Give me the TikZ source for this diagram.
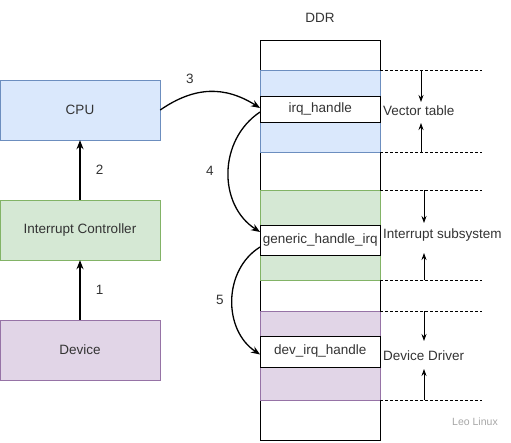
\documentclass[tikz,border=0pt]{standalone}
\usepackage{fontspec}
\setmainfont{Liberation Sans}
\usetikzlibrary{arrows.meta}
\definecolor{txt}{HTML}{333333}
\definecolor{bfill}{HTML}{DAE8FC}\definecolor{bline}{HTML}{6C8EBF}
\definecolor{gfill}{HTML}{D5E8D4}\definecolor{gline}{HTML}{82B366}
\definecolor{pfill}{HTML}{E1D5E7}\definecolor{pline}{HTML}{9673A6}
\tikzset{
  box/.style={draw, minimum width=160pt, minimum height=60pt, inner sep=0pt, font=\fontsize{13.5}{15}\selectfont, text=txt},
  fn/.style={draw=black, fill=white, minimum width=120pt, minimum height=26pt, inner sep=0pt, font=\fontsize{13.5}{15}\selectfont, text=txt},
  lbl/.style={font=\fontsize{13.5}{15}\selectfont, text=txt},
  arr/.style={-{Stealth[length=9pt,width=7pt]}, line width=1.3pt},
  dim/.style={-{Stealth[length=7pt,width=5pt]}, line width=0.8pt},
  dsh/.style={dash pattern=on 3pt off 2pt, line width=0.7pt}
}
\begin{document}
\begin{tikzpicture}[x=1pt,y=-1pt]
\useasboundingbox (0,0) rectangle (511,442);
% left boxes
\node[box, fill=bfill, draw=bline] (cpu) at (80,110) {CPU};
\node[box, fill=gfill, draw=gline] (ic) at (80,230) {Interrupt Controller};
\node[box, fill=pfill, draw=pline] (dev) at (80,350) {Device};
\draw[arr] (dev.north) -- node[lbl, right=12pt] {1} (ic.south);
\draw[arr] (ic.north) -- node[lbl, right=12pt] {2} (cpu.south);
% DDR
\node[lbl] (ddr) at (320,18) {DDR};
\draw[fill=white] (260.5,40) rectangle (380,440);
\draw[fill=bfill, draw=bline] (260.5,70) rectangle (380,152);
\draw[fill=gfill, draw=gline] (260.5,190) rectangle (380,280);
\draw[fill=pfill, draw=pline] (260.5,311) rectangle (380,400);
\node[fn] (irq) at (320.25,109) {irq\_handle};
\node[fn, minimum height=30pt] (gen) at (320.25,240) {generic\_handle\_irq};
\node[fn, minimum height=31pt] (devirq) at (320.25,351.5) {dev\_irq\_handle};
% dashed bounds
\coordinate (v1) at (380,70); \coordinate (v2) at (482,70);
\coordinate (v3) at (380,152); \coordinate (v4) at (482,152);
\coordinate (g1) at (380,190); \coordinate (g2) at (482,190);
\coordinate (g3) at (380,280); \coordinate (g4) at (482,280);
\coordinate (p1) at (380,311); \coordinate (p2) at (482,311);
\coordinate (p3) at (380,400); \coordinate (p4) at (482,400);
\draw[dsh] (v1) -- (v2); \draw[dsh] (v3) -- (v4);
\draw[dsh] (g1) -- (g2); \draw[dsh] (g3) -- (g4);
\draw[dsh] (p1) -- (p2); \draw[dsh] (p3) -- (p4);
% labels
\node[lbl, anchor=west, inner sep=0pt] (vt) at (383,111) {Vector table};
\node[lbl, anchor=west, inner sep=0pt] (is) at (383,235) {Interrupt subsystem};
\node[lbl, anchor=west, inner sep=0pt] (dd) at (383,356) {Device Driver};
\coordinate (va) at (421,70); \coordinate (vb) at (421,102);
\coordinate (vc) at (421,152); \coordinate (vd) at (421,123);
\draw[dim] (va) -- (vb); \draw[dim] (vc) -- (vd);
\coordinate (ga) at (424,190); \coordinate (gb) at (424,223);
\coordinate (gc) at (424,280); \coordinate (gd) at (424,253);
\draw[dim] (ga) -- (gb); \draw[dim] (gc) -- (gd);
\coordinate (pa) at (424,311); \coordinate (pb) at (424,341);
\coordinate (pc) at (424,400); \coordinate (pd) at (424,369);
\draw[dim] (pa) -- (pb); \draw[dim] (pc) -- (pd);
% flow arrows
\draw[arr] (cpu.east) .. controls (195,86) and (225,86) .. ([yshift=1pt]irq.west);
\node[lbl] (n3) at (190,79) {3};
\draw[arr] ([yshift=-3pt]irq.west) .. controls (218,140) and (218,205) .. ([yshift=8pt]gen.west);
\node[lbl] (n4) at (210,171) {4};
\draw[arr] ([yshift=-7pt]gen.west) .. controls (223,270) and (223,330) .. ([yshift=-3pt]devirq.west);
\node[lbl] (n5) at (220,300) {5};
% watermark
\node[font=\fontsize{10.5}{12}\selectfont, text=black!35] (wm) at (475,422) {Leo Linux};
\end{tikzpicture}
\end{document}
